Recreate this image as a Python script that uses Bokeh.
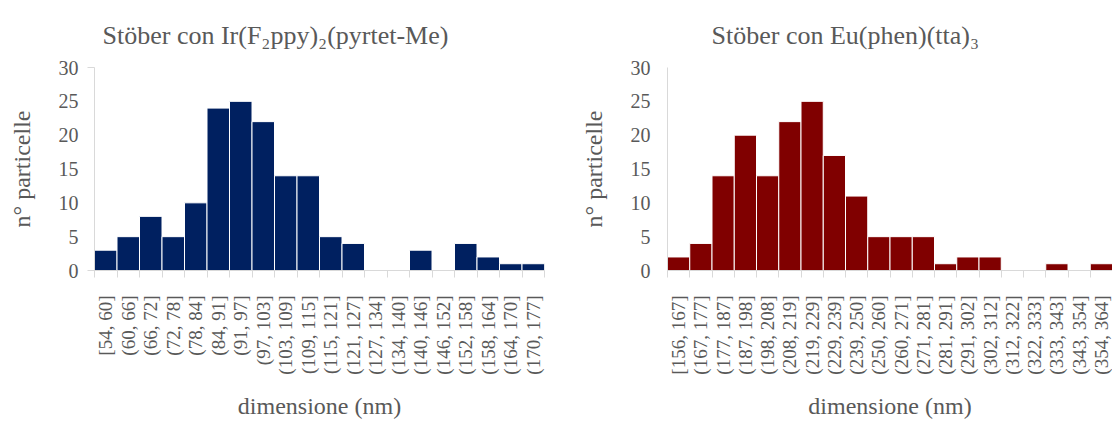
from bokeh.plotting import figure
from bokeh.layouts import row
from bokeh.models import Range1d, FixedTicker
from bokeh.embed import file_html
from bokeh.resources import INLINE

# ---- data ----
ir_labels = ["[54, 60]", "(60, 66]", "(66, 72]", "(72, 78]", "(78, 84]", "(84, 91]",
             "(91, 97]", "(97, 103]", "(103, 109]", "(109, 115]", "(115, 121]",
             "(121, 127]", "(127, 134]", "(134, 140]", "(140, 146]", "(146, 152]",
             "(152, 158]", "(158, 164]", "(164, 170]", "(170, 177]"]
ir_counts = [3, 5, 8, 5, 10, 24, 25, 22, 14, 14, 5, 4, 0, 0, 3, 0, 4, 2, 1, 1]

eu_labels = ["[156, 167]", "(167, 177]", "(177, 187]", "(187, 198]", "(198, 208]",
             "(208, 219]", "(219, 229]", "(229, 239]", "(239, 250]", "(250, 260]",
             "(260, 271]", "(271, 281]", "(281, 291]", "(291, 302]", "(302, 312]",
             "(312, 322]", "(322, 333]", "(333, 343]", "(343, 354]", "(354, 364]"]
eu_counts = [2, 4, 14, 20, 14, 22, 25, 17, 11, 5, 5, 5, 1, 2, 2, 0, 0, 1, 0, 1]

y_ticks = [0, 5, 10, 15, 20, 25, 30]

FONT = "'Liberation Serif'"
TXT = "#595959"
AX = "#d9d9d9"


def make(labels, counts, color, title, fw, bl, br, title_offset, y_minor, ystandoff,
         ylab_standoff):
    n = len(labels)
    centers = [i + 0.5 for i in range(n)]
    bounds = [float(i) for i in range(n + 1)]
    p = figure(frame_width=fw, frame_height=203, min_border_left=bl, min_border_right=br,
               min_border_top=66, min_border_bottom=10,
               x_range=Range1d(0, n), y_range=Range1d(0, 30),
               output_backend="svg", toolbar_location=None, title=title)
    p.vbar(x=centers, top=counts, width=1.0, fill_color=color, line_color="#ffffff",
           line_width=1)
    p.title.align = "left"
    p.title.offset = title_offset
    p.title.text_font = FONT
    p.title.text_font_size = "26px"
    p.title.text_font_style = "normal"
    p.title.text_color = TXT
    p.title.standoff = 36
    p.outline_line_color = None
    p.xgrid.visible = False
    p.ygrid.visible = False
    p.background_fill_color = "white"
    p.border_fill_color = "white"

    xa = p.xaxis[0]
    xa.ticker = FixedTicker(ticks=centers, minor_ticks=bounds)
    xa.major_label_overrides = {c: l for c, l in zip(centers, labels)}
    xa.major_label_orientation = 3.14159265 / 2
    xa.major_tick_line_color = None
    xa.major_tick_out = 0
    xa.major_tick_in = 0
    xa.minor_tick_out = 7
    xa.minor_tick_in = 0
    xa.minor_tick_line_color = AX
    xa.axis_line_color = AX
    xa.major_label_text_font = FONT
    xa.major_label_text_font_size = "19px"
    xa.major_label_text_color = TXT
    xa.major_label_standoff = 18
    xa.axis_label = "dimensione (nm)"
    xa.axis_label_text_font = FONT
    xa.axis_label_text_font_size = "24px"
    xa.axis_label_text_font_style = "normal"
    xa.axis_label_text_color = TXT
    xa.axis_label_standoff = 15

    ya = p.yaxis[0]
    ya.ticker = FixedTicker(ticks=y_ticks, minor_ticks=y_minor)
    ya.major_tick_out = 0
    ya.major_tick_in = 0
    ya.major_tick_line_color = None
    ya.minor_tick_out = 7
    ya.minor_tick_in = 0
    ya.minor_tick_line_color = AX
    ya.axis_line_color = AX
    ya.major_label_text_font = FONT
    ya.major_label_text_font_size = "20px"
    ya.major_label_text_color = TXT
    ya.major_label_standoff = ystandoff
    ya.axis_label = "n° particelle"
    ya.axis_label_text_font = FONT
    ya.axis_label_text_font_size = "24px"
    ya.axis_label_text_font_style = "normal"
    ya.axis_label_text_color = TXT
    ya.axis_label_standoff = ylab_standoff
    return p


p1 = make(ir_labels, ir_counts, "#002060", "Stöber con Ir(F₂ppy)₂(pyrtet-Me)",
          450, 94, 18, 8, [0, 30], 9, 21)
p2 = make(eu_labels, eu_counts, "#800000", "Stöber con Eu(phen)(tta)₃",
          445, 105, 0, 44, [], 17, 21)

layout = row(p1, p2)
open("out.html", "w").write(file_html(layout, INLINE))
